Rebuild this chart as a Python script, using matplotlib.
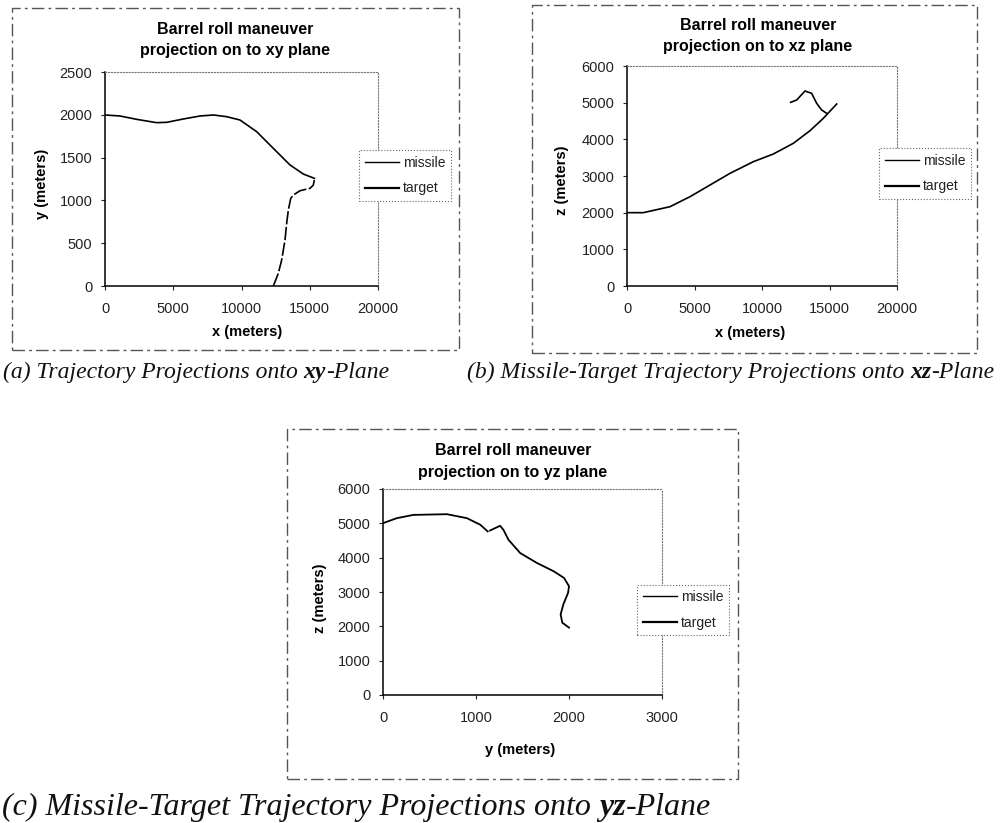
import matplotlib
matplotlib.use('Agg')
import matplotlib.pyplot as plt
from matplotlib.patches import Rectangle
from matplotlib.lines import Line2D

plt.rcParams['font.family'] = ['Liberation Sans', 'DejaVu Sans']

# trajectory samples, metres
# xy projection
xy_missile_x = [0, 1099, 2320, 3785, 4518, 5739, 6960, 7936, 8913, 9890, 11111, 12332, 13553, 14530, 15336]
xy_missile_y = [1998, 1986, 1947, 1908, 1912, 1951, 1986, 1998, 1978, 1939, 1803, 1608, 1414, 1308, 1258]
xy_target_x = [12332, 12698, 12943, 13187, 13309, 13431, 13606, 13797, 14286, 15018, 15262, 15336]
xy_target_y = [0, 148, 304, 537, 732, 888, 1024, 1063, 1113, 1141, 1180, 1238]

# xz projection
xz_missile_x = [0, 1210, 3185, 4667, 6148, 7630, 9358, 10840, 12321, 13556, 14543, 15531]
xz_missile_z = [2000, 2000, 2163, 2436, 2754, 3073, 3390, 3600, 3891, 4236, 4573, 4963]
xz_target_x = [12123, 12568, 13185, 13679, 14049, 14420, 14790]
xz_target_z = [5009, 5072, 5318, 5254, 4982, 4800, 4709]

# yz projection
yz_missile_y = [2000, 1928, 1910, 1939, 1990, 2000, 1946, 1835, 1655, 1475, 1349, 1295, 1259, 1205, 1151]
yz_missile_z = [1962, 2106, 2348, 2638, 2976, 3169, 3411, 3604, 3846, 4135, 4522, 4812, 4928, 4860, 4791]
yz_target_y = [0, 148, 327, 687, 903, 1047, 1126]
yz_target_z = [5005, 5150, 5246, 5266, 5150, 4957, 4763]

series_labels = ['missile', 'target']

W, H = 1001, 823
fig = plt.figure(figsize=(W / 100, H / 100), dpi=100)
fig.patch.set_facecolor('white')


def fx(px):
    return px / W


def fy(py):
    return 1 - py / H


def chart_frame(l, t, r, b):
    rect = Rectangle((fx(l), fy(b)), (r - l) / W, (b - t) / H, transform=fig.transFigure,
                     fill=False, ec='#555555', lw=1.0, ls=(0, (9, 3, 2, 3)))
    fig.add_artist(rect)


def make_axes(l, t, r, b, xlim, ylim, xstep, ystep):
    ax = fig.add_axes([fx(l), fy(b), (r - l) / W, (b - t) / H])
    ax.set_xlim(*xlim)
    ax.set_ylim(*ylim)
    ax.set_xticks(range(xlim[0], xlim[1] + 1, xstep))
    ax.set_yticks(range(ylim[0], ylim[1] + 1, ystep))
    for side in ['left', 'bottom']:
        ax.spines[side].set_color('black')
        ax.spines[side].set_linewidth(1.1)
    for side in ['top', 'right']:
        ax.spines[side].set_color('#777777')
        ax.spines[side].set_linewidth(0.8)
        ax.spines[side].set_linestyle(':')
    ax.tick_params(axis='both', direction='out', length=3, width=0.8, labelsize=10.5,
                   colors='#222222')
    ax.tick_params(axis='x', pad=8.5)
    ax.tick_params(axis='y', pad=6)
    return ax


def add_legend(ax, left, yc):
    handles = [Line2D([], [], color='black', lw=1.0),
               Line2D([], [], color='black', lw=1.6)]
    leg = ax.legend(handles, series_labels, loc='center left',
                    bbox_to_anchor=(fx(left), fy(yc)), bbox_transform=fig.transFigure,
                    fontsize=10, handlelength=2.5, handletextpad=0.25, labelspacing=0.85,
                    borderpad=0.4, borderaxespad=0, fancybox=False, framealpha=1)
    fr = leg.get_frame()
    fr.set_edgecolor('#666666')
    fr.set_linewidth(0.8)
    fr.set_linestyle(':')
    for txt in leg.get_texts():
        txt.set_color('#222222')


def two_line_title(xc, y1, y2, line1, line2):
    fig.text(fx(xc), fy(y1), line1, ha='center', va='center', fontsize=11.5, fontweight='bold')
    fig.text(fx(xc), fy(y2), line2, ha='center', va='center', fontsize=11.5, fontweight='bold')


renderer = fig.canvas.get_renderer()


def caption(x, y, parts, size):
    cur = x
    space = size * 0.25 * 100 / 72
    for text, bold, gap in parts:
        if gap:
            cur += space
        t = fig.text(fx(cur), fy(y), text, fontsize=size, family='Liberation Serif',
                     style='italic', fontweight='bold' if bold else 'normal',
                     va='baseline', ha='left', color='#111111')
        cur = t.get_window_extent(renderer=renderer).x1


# (a) xy plane
chart_frame(12, 8, 459, 350)
ax_a = make_axes(105, 72, 378, 286, (0, 20000), (0, 2500), 5000, 500)
ax_a.plot(xy_missile_x, xy_missile_y, color='black', lw=1.2)
ax_a.plot(xy_target_x, xy_target_y, color='black', lw=1.2, ls=(0, (8, 1.5)))
two_line_title(235, 30, 51, 'Barrel roll maneuver', 'projection on to xy plane')
fig.text(fx(42), fy(184), 'y (meters)', rotation=90, ha='center', va='center',
         fontsize=10.5, fontweight='bold')
fig.text(fx(247), fy(332), 'x (meters)', ha='center', va='center', fontsize=10.5, fontweight='bold')
add_legend(ax_a, 359, 175.5)

# (b) xz plane
chart_frame(532, 5, 977, 353)
ax_b = make_axes(627, 66, 897, 286, (0, 20000), (0, 6000), 5000, 1000)
ax_b.plot(xz_missile_x, xz_missile_z, color='black', lw=1.2)
ax_b.plot(xz_target_x, xz_target_z, color='black', lw=1.2)
two_line_title(758, 26, 47, 'Barrel roll maneuver', 'projection on to xz plane')
fig.text(fx(562), fy(180), 'z (meters)', rotation=90, ha='center', va='center',
         fontsize=10.5, fontweight='bold')
fig.text(fx(750), fy(333), 'x (meters)', ha='center', va='center', fontsize=10.5, fontweight='bold')
add_legend(ax_b, 879, 173.5)

# (c) yz plane
chart_frame(287, 429, 738, 779)
ax_c = make_axes(383, 489, 662, 695, (0, 3000), (0, 6000), 1000, 1000)
ax_c.plot(yz_missile_y, yz_missile_z, color='black', lw=1.3)
ax_c.plot(yz_target_y, yz_target_z, color='black', lw=1.3)
two_line_title(513, 450, 472, 'Barrel roll maneuver', 'projection on to yz plane')
fig.text(fx(320), fy(598), 'z (meters)', rotation=90, ha='center', va='center',
         fontsize=10.5, fontweight='bold')
fig.text(fx(520), fy(750), 'y (meters)', ha='center', va='center', fontsize=10.5, fontweight='bold')
add_legend(ax_c, 637, 610)

# figure captions
caption(3, 378, [('(a) Trajectory Projections onto', False, False), ('xy', True, True),
                 ('-Plane', False, False)], 17)
caption(467, 378, [('(b) Missile-Target Trajectory Projections onto', False, False),
                   ('xz', True, True), ('-Plane', False, False)], 17)
caption(2, 815, [('(c) Missile-Target Trajectory Projections onto', False, False),
                 ('yz', True, True), ('-Plane', False, False)], 23)

fig.savefig('out.png', dpi=100)
